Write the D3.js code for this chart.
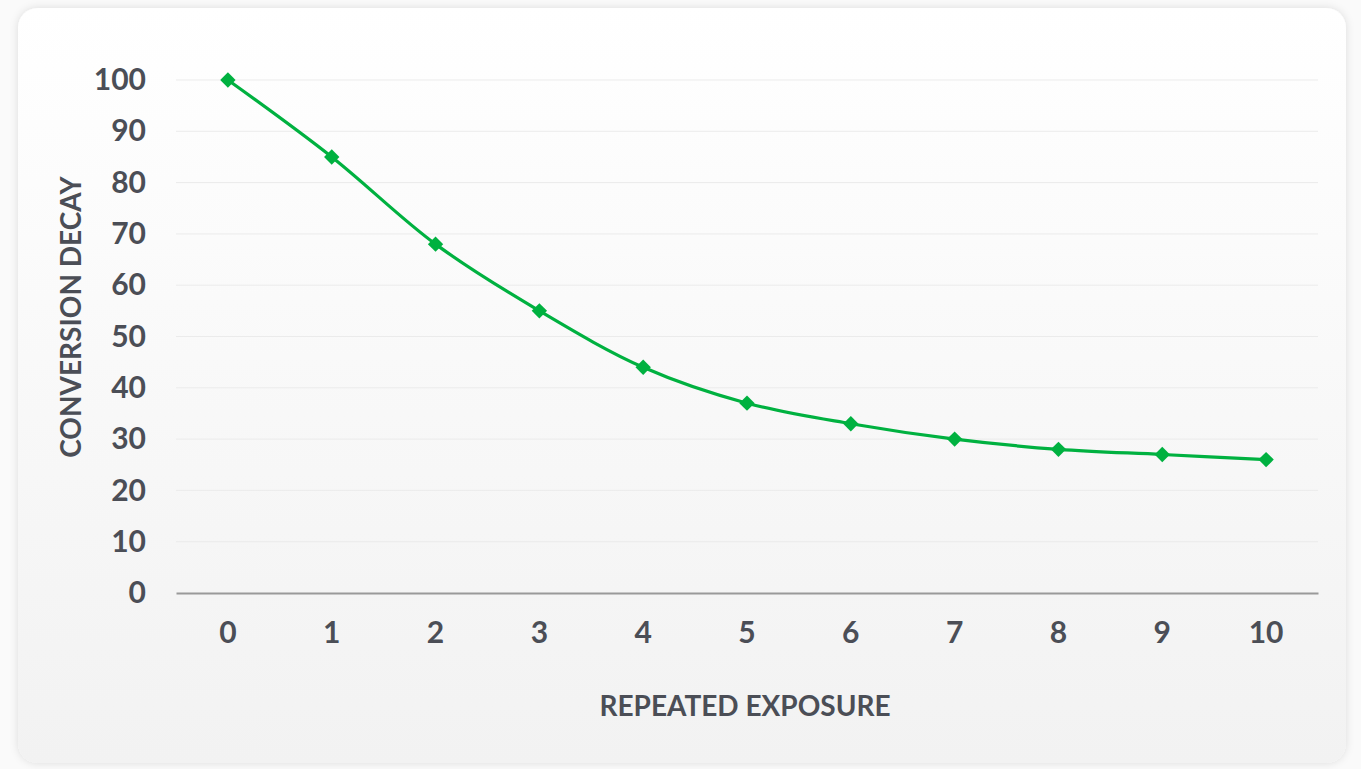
<!DOCTYPE html>
<html>
<head>
<meta charset="utf-8">
<script src="https://cdn.jsdelivr.net/npm/d3@7"></script>
<style>
  body { margin: 0; background: #f4f4f4; font-family: Lato, "Open Sans", sans-serif; }
  svg { display: block; }
</style>
</head>
<body>
<div id="graph"></div>
<script>
var exposures = [0, 1, 2, 3, 4, 5, 6, 7, 8, 9, 10]
var decay = [100, 85, 68, 55, 44, 37, 33, 30, 28, 27, 26]
var yTicks = [0, 10, 20, 30, 40, 50, 60, 70, 80, 90, 100]

var data = exposures.map((d, i) => ({x: d, y: decay[i]}))

var W = 1361, H = 769
var svg = d3.select('#graph').append('svg').attr('width', W).attr('height', H)

var defs = svg.append('defs')
var grad = defs.append('linearGradient').attr('id', 'bg')
  .attr('x1', 0).attr('y1', 0).attr('x2', 0).attr('y2', 1)
grad.append('stop').attr('offset', '0%').attr('stop-color', '#ffffff')
grad.append('stop').attr('offset', '100%').attr('stop-color', '#f2f2f2')

var shadow = defs.append('filter').attr('id', 'shadow')
  .attr('x', '-5%').attr('y', '-5%').attr('width', '110%').attr('height', '110%')
shadow.append('feDropShadow').attr('dx', 0).attr('dy', 0).attr('stdDeviation', 4)
  .attr('flood-color', '#000').attr('flood-opacity', 0.12)

svg.append('rect').attr('width', W).attr('height', H).attr('fill', '#fafafa')

svg.append('rect')
  .attr('x', 18).attr('y', 8).attr('width', 1328).attr('height', 755)
  .attr('rx', 20)
  .attr('fill', 'url(#bg)')
  .attr('filter', 'url(#shadow)')

var m = {left: 176, right: 1318, top: 80, bottom: 593}

var x = d3.scaleBand().domain(exposures).range([m.left, m.right])
var y = d3.scaleLinear().domain([0, 100]).range([m.bottom, m.top])

var textColor = '#4b4e56'

// grid
svg.append('g').selectAll('line').data(yTicks.filter(d => d > 0)).join('line')
  .attr('x1', m.left).attr('x2', m.right)
  .attr('y1', d => y(d)).attr('y2', d => y(d))
  .attr('stroke', '#ebebeb').attr('stroke-width', 1)

// y axis
var yAxis = svg.append('g').attr('transform', `translate(${m.left},0)`)
  .call(d3.axisLeft(y).tickValues(yTicks).tickSize(0).tickPadding(30))
yAxis.select('.domain').remove()
yAxis.selectAll('text')
  .attr('fill', textColor).style('font-size', '30px').style('font-weight', 700)
  .style('font-family', 'Lato')

// x axis
var xAxis = svg.append('g').attr('transform', `translate(0,${m.bottom})`)
  .call(d3.axisBottom(x).tickSize(0).tickPadding(29))
xAxis.select('.domain').attr('stroke', '#9a9a9a').attr('stroke-width', 2)
xAxis.selectAll('text')
  .attr('fill', textColor).style('font-size', '30px').style('font-weight', 700)
  .style('font-family', 'Lato')

// titles
svg.append('text')
  .text('REPEATED EXPOSURE')
  .attr('x', 745).attr('y', 716)
  .attr('text-anchor', 'middle')
  .attr('fill', textColor).style('font-size', '28px').style('font-weight', 700)
  .style('font-family', 'Lato')

svg.append('text')
  .text('CONVERSION DECAY')
  .attr('transform', `translate(81,317) rotate(-90)`)
  .attr('text-anchor', 'middle')
  .attr('fill', textColor).style('font-size', '28px').style('font-weight', 700)
  .style('font-family', 'Lato')

// line
var green = '#00b140'
var line = d3.line()
  .x(d => x(d.x) + x.bandwidth() / 2)
  .y(d => y(d.y))
  .curve(d3.curveCatmullRom.alpha(0.5))

svg.append('path').attr('d', line(data))
  .attr('fill', 'none').attr('stroke', green).attr('stroke-width', 3.2)

svg.append('g').selectAll('path').data(data).join('path')
  .attr('d', d3.symbol(d3.symbolSquare, 118)())
  .attr('transform', d => `translate(${x(d.x) + x.bandwidth() / 2},${y(d.y)}) rotate(45)`)
  .attr('fill', green)
</script>
</body>
</html>
